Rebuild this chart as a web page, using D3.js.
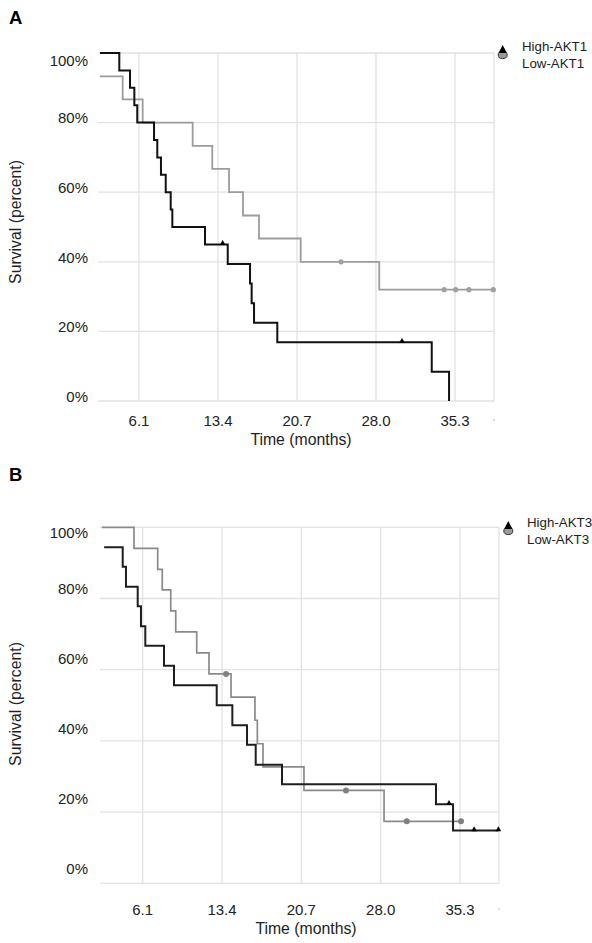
<!DOCTYPE html>
<html><head><meta charset="utf-8">
<script src="https://cdn.jsdelivr.net/npm/d3@7"></script>
<style>
html,body{margin:0;padding:0;background:#fff;}
svg{display:block;font-family:Arial,"Liberation Sans",sans-serif;}
</style></head>
<body>
<svg id="chart" width="592" height="943"></svg>
<script>
// ---------- data ----------
const timeTicks = [6.1, 13.4, 20.7, 28.0, 35.3];
const pctTicks = [0, 20, 40, 60, 80, 100];

// Panel A
const highAKT1Times = [2.5, 4.28, 5.27, 5.67, 5.94, 7.49, 7.79, 8.13, 8.57, 9.03, 9.18, 12.2, 14.3, 16.36, 16.51, 16.73, 18.88, 33.15, 34.75];
const highAKT1Surv  = [100, 95, 90, 85, 80, 75, 70, 65, 60, 55, 50, 45, 39.4, 33.8, 28.1, 22.5, 16.9, 8.4, 0];
const highAKT1Censor = [13.83, 30.4];

const lowAKT1Times = [2.5, 4.59, 6.44, 11.06, 12.87, 14.42, 15.71, 17.19, 21.04, 28.3, 38.84];
const lowAKT1Surv  = [93.3, 86.7, 80, 73.3, 66.7, 60, 53.3, 46.7, 40, 32, 32];
const lowAKT1Censor = [24.77, 34.3, 35.36, 36.59, 38.84];

// Panel B
const highAKT3Times = [2.55, 4.26, 4.56, 5.64, 5.94, 6.34, 8.06, 8.98, 12.91, 14.35, 15.70, 16.5, 18.92, 33.09, 34.66, 38.83];
const highAKT3Surv  = [94.4, 88.9, 83.3, 77.8, 72.2, 66.7, 61.1, 55.6, 50, 44.4, 38.9, 33.3, 27.8, 22.2, 14.8, 14.8];
const highAKT3Censor = [34.29, 36.6, 38.83];

const lowAKT3Times = [2.35, 5.3, 7.48, 7.9, 8.68, 9.14, 11.07, 12.2, 14.23, 16.43, 16.65, 17.17, 20.94, 28.31, 35.39];
const lowAKT3Surv  = [100, 94.1, 88.2, 82.4, 76.5, 70.6, 64.7, 58.8, 52.3, 45.8, 39.2, 32.7, 26.1, 17.4, 17.4];
const lowAKT3Censor = [13.77, 24.81, 30.4, 35.39];

const panelLetters = ["A", "B"];
const legendA = ["High-AKT1", "Low-AKT1"];
const legendB = ["High-AKT3", "Low-AKT3"];

// ---------- layout ----------
const panels = [
  { letter: panelLetters[0], letterY: 24,
    left: 100, right: 494, top: 53, bottom: 401, xA: 139, xB: 455,
    labTop: 60, lab0: 396.7, lab80: 117.3, xLabY: 420, titleX: 301, titleY: 439, yTitleY: 222,
    legX: 502.7, legY: 45, legTextX: 522, legText: legendA,
    high: { t: highAKT1Times, s: highAKT1Surv, c: highAKT1Censor, color: "#111", w: 2 },
    low:  { t: lowAKT1Times,  s: lowAKT1Surv,  c: lowAKT1Censor,  color: "#9c9c9c", w: 1.8, dot: "#a0a0a0", r: 2.6 } },
  { letter: panelLetters[1], letterY: 481,
    left: 102, right: 499, top: 527.3, bottom: 883.3, xA: 142.7, xB: 460,
    labTop: 532.5, lab0: 868.3, lab80: 588.5, xLabY: 909, titleX: 306, titleY: 928, yTitleY: 704,
    legX: 508.3, legY: 521, legTextX: 527, legText: legendB,
    high: { t: highAKT3Times, s: highAKT3Surv, c: highAKT3Censor, color: "#1e1e1e", w: 2 },
    low:  { t: lowAKT3Times,  s: lowAKT3Surv,  c: lowAKT3Censor,  color: "#8a8a8a", w: 1.7, dot: "#808080", r: 3 } }
];

const svg = d3.select("#chart");
const gridColor = "#e2e2e2";

function stepLookup(times, surv, t) {
  const i = d3.bisectRight(times, t) - 1;
  return surv[Math.max(0, i)];
}

panels.forEach(p => {
  const g = svg.append("g");
  const x = d3.scaleLinear().domain([timeTicks[0], timeTicks[4]]).range([p.xA, p.xB]);
  const y = d3.scaleLinear().domain([0, 100]).range([p.bottom, p.top]);
  const yLab = d3.scaleLinear().domain([0, 80]).range([p.lab0, p.lab80]);

  // panel letter
  g.append("text").attr("x", 9).attr("y", p.letterY)
    .attr("font-size", 18.5).attr("font-weight", "bold").attr("fill", "#000").text(p.letter);

  // horizontal grid
  g.selectAll(".hg").data(pctTicks).enter().append("line")
    .attr("x1", p.left - 2).attr("x2", p.right)
    .attr("y1", d => y(d)).attr("y2", d => y(d))
    .attr("stroke", gridColor).attr("stroke-width", 1.3);
  // vertical grid (ticks + right border)
  g.selectAll(".vg").data(timeTicks).enter().append("line")
    .attr("x1", d => x(d)).attr("x2", d => x(d))
    .attr("y1", p.top).attr("y2", p.bottom)
    .attr("stroke", gridColor).attr("stroke-width", 1.3);
  g.append("line").attr("x1", p.right).attr("x2", p.right)
    .attr("y1", p.top).attr("y2", p.bottom)
    .attr("stroke", gridColor).attr("stroke-width", 1.3);
  // small end tick mark below axis
  g.append("line").attr("x1", p.right).attr("x2", p.right)
    .attr("y1", p.xLabY - 1).attr("y2", p.xLabY + 1)
    .attr("stroke", "#bbb").attr("stroke-width", 1);

  // y tick labels
  g.selectAll(".yl").data(pctTicks).enter().append("text")
    .attr("x", 88).attr("y", d => Math.max(yLab(d), p.labTop))
    .attr("text-anchor", "end").attr("dominant-baseline", "central")
    .attr("font-size", 15).attr("fill", "#222").text(d => d + "%");
  // x tick labels
  g.selectAll(".xl").data(timeTicks).enter().append("text")
    .attr("x", d => x(d)).attr("y", p.xLabY)
    .attr("text-anchor", "middle").attr("dominant-baseline", "central")
    .attr("font-size", 15).attr("fill", "#222").text(d => d.toFixed(1));
  // axis titles
  g.append("text").attr("x", p.titleX).attr("y", p.titleY)
    .attr("text-anchor", "middle").attr("dominant-baseline", "central")
    .attr("font-size", 15.8).attr("fill", "#222").text("Time (months)");
  g.append("text")
    .attr("transform", `translate(15,${p.yTitleY}) rotate(-90)`)
    .attr("text-anchor", "middle").attr("dominant-baseline", "central")
    .attr("font-size", 15.8).attr("fill", "#222").text("Survival (percent)");

  const line = d3.line().x(d => x(d[0])).y(d => y(d[1])).curve(d3.curveStepAfter);

  // low (gray) curve
  const lowPts = p.low.t.map((t, i) => [t, p.low.s[i]]);
  g.append("path").attr("d", line(lowPts)).attr("fill", "none")
    .attr("stroke", p.low.color).attr("stroke-width", p.low.w);
  g.selectAll(".ld").data(p.low.c).enter().append("circle")
    .attr("cx", d => x(d)).attr("cy", d => y(stepLookup(p.low.t, p.low.s, d)))
    .attr("r", p.low.r).attr("fill", p.low.dot);

  // high (black) curve
  const highPts = p.high.t.map((t, i) => [t, p.high.s[i]]);
  g.append("path").attr("d", line(highPts)).attr("fill", "none")
    .attr("stroke", p.high.color).attr("stroke-width", p.high.w);
  const tri = d3.symbol().type(d3.symbolTriangle).size(14);
  g.selectAll(".hd").data(p.high.c).enter().append("path")
    .attr("d", tri)
    .attr("transform", d => `translate(${x(d)},${y(stepLookup(p.high.t, p.high.s, d)) - 1})`)
    .attr("fill", "#000");

  // legend
  g.append("ellipse").attr("cx", p.legX).attr("cy", p.legY + 10)
    .attr("rx", 4.5).attr("ry", 3.6).attr("fill", "#9a9a9a").attr("stroke", "#333").attr("stroke-width", 1);
  g.append("path")
    .attr("d", `M${p.legX},${p.legY} L${p.legX + 4.2},${p.legY + 8} L${p.legX - 4.2},${p.legY + 8} Z`)
    .attr("fill", "#000");
  g.selectAll(".lt").data(p.legText).enter().append("text")
    .attr("x", p.legTextX).attr("y", (d, i) => p.legY + 1 + i * 17)
    .attr("dominant-baseline", "central")
    .attr("font-size", 13.3).attr("fill", "#222").text(d => d);
});
</script>
</body></html>
